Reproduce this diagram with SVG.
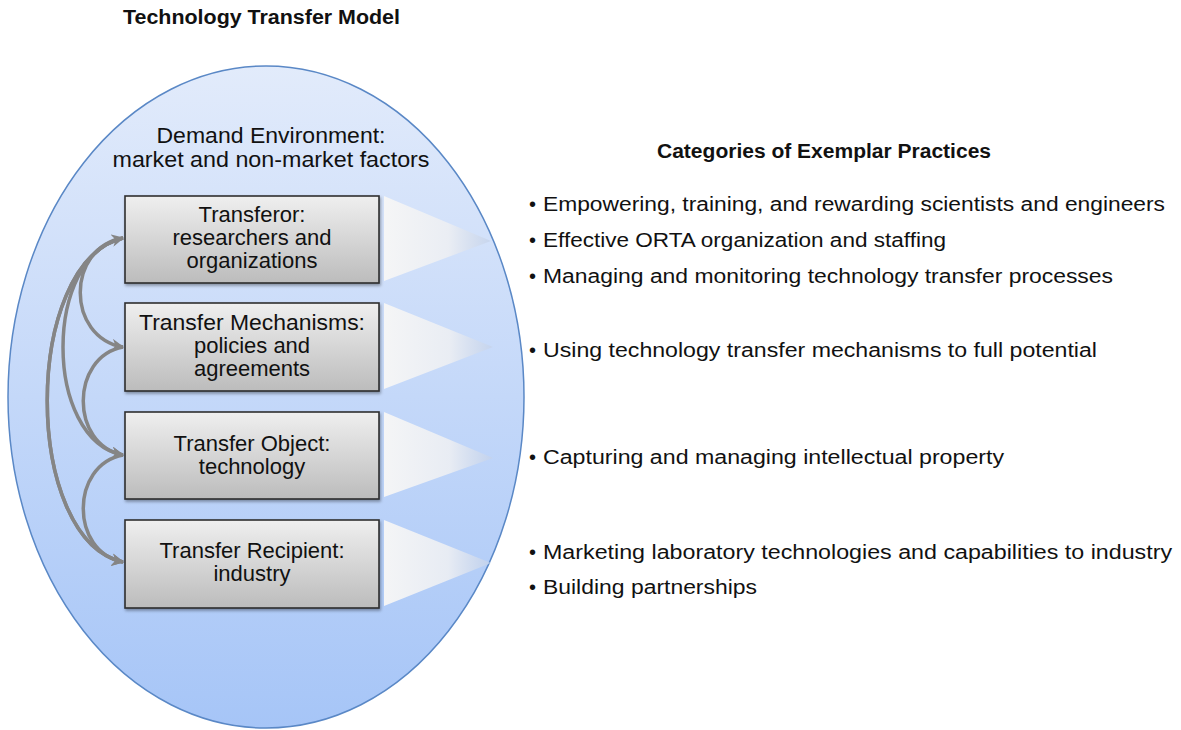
<svg xmlns="http://www.w3.org/2000/svg" width="1181" height="730" viewBox="0 0 1181 730">
<defs>
<style>
.t{font-family:"Liberation Sans",Arial,sans-serif;fill:#111;}
.bt{font-family:"Liberation Sans",Arial,sans-serif;fill:#111;font-size:22px;text-anchor:middle;}
.rt{font-family:"Liberation Sans",Arial,sans-serif;fill:#111;font-size:20px;}
.box{fill:url(#boxg);stroke:#2e2e2e;stroke-width:1.6;filter:url(#sh);}
.tri{fill:url(#trig);}
.con{fill:none;stroke:#858585;stroke-width:3.5;marker-end:url(#ah);}
</style>
<linearGradient id="ellg" x1="0" y1="0" x2="0" y2="1">
<stop offset="0" stop-color="#e2ebfb"/>
<stop offset="1" stop-color="#a6c5f7"/>
</linearGradient>
<linearGradient id="boxg" x1="0" y1="0" x2="0" y2="1">
<stop offset="0" stop-color="#efefef"/>
<stop offset="1" stop-color="#bcbcbc"/>
</linearGradient>
<linearGradient id="trig" x1="0" y1="0" x2="1" y2="0">
<stop offset="0" stop-color="#f6f6f6" stop-opacity="0.97"/>
<stop offset="0.6" stop-color="#edeff3" stop-opacity="0.9"/>
<stop offset="1" stop-color="#c4d2ea" stop-opacity="0.75"/>
</linearGradient>
<filter id="sh" x="-10%" y="-10%" width="120%" height="130%">
<feDropShadow dx="1" dy="2" stdDeviation="1.5" flood-color="#000" flood-opacity="0.35"/>
</filter>
<marker id="ah" viewBox="0 0 10 10" refX="9" refY="5" markerWidth="3.6" markerHeight="3.6" orient="auto" markerUnits="strokeWidth">
<path d="M0,0 L10,5 L0,10 L3,5 Z" fill="#858585"/>
</marker>
</defs>
<rect width="1181" height="730" fill="#fff"/>
<text class="t" x="123" y="24" font-size="20" font-weight="bold" textLength="277" lengthAdjust="spacingAndGlyphs">Technology Transfer Model</text>
<g id="environment">
<ellipse cx="266" cy="397" rx="258" ry="331" fill="url(#ellg)" stroke="#5a88c6" stroke-width="1.5"/>
<text class="bt" x="271" y="143" textLength="229" lengthAdjust="spacingAndGlyphs">Demand Environment:</text>
<text class="bt" x="271" y="167" textLength="317" lengthAdjust="spacingAndGlyphs">market and non-market factors</text>
</g>
<g id="connectors">
<path class="con" d="M123,238 C66,248 66,337 123,347"/>
<path class="con" d="M123,238 C43,255 43,440 123,455"/>
<path class="con" d="M123,238 C22,262 22,540 123,562"/>
<path class="con" d="M123,347 C70,357 70,445 123,455"/>
<path class="con" d="M123,455 C70,465 70,552 123,562"/>
<path class="con" d="M123,562 C22,540 22,262 123,238"/>
</g>
<g id="transferor">
<polygon class="tri" points="384,196 491,241 384,281"/>
<rect class="box" x="125" y="196" width="254" height="87"/>
<text class="bt" x="252" y="222">Transferor:</text>
<text class="bt" x="252" y="245">researchers and</text>
<text class="bt" x="252" y="268">organizations</text>
</g>
<g id="mechanisms">
<polygon class="tri" points="384,303 493,347 384,389"/>
<rect class="box" x="125" y="303" width="254" height="88"/>
<text class="bt" x="252" y="330" textLength="226" lengthAdjust="spacingAndGlyphs">Transfer Mechanisms:</text>
<text class="bt" x="252" y="353">policies and</text>
<text class="bt" x="252" y="376">agreements</text>
</g>
<g id="object">
<polygon class="tri" points="384,412 493,458 384,497"/>
<rect class="box" x="125" y="412" width="254" height="87"/>
<text class="bt" x="252" y="451">Transfer Object:</text>
<text class="bt" x="252" y="474">technology</text>
</g>
<g id="recipient">
<polygon class="tri" points="384,520 491,563 384,606"/>
<rect class="box" x="125" y="520" width="254" height="88"/>
<text class="bt" x="252" y="558">Transfer Recipient:</text>
<text class="bt" x="252" y="581">industry</text>
</g>
<g id="practices">
<text class="t" x="657" y="158" font-size="20" font-weight="bold" textLength="334" lengthAdjust="spacingAndGlyphs">Categories of Exemplar Practices</text>
<g class="rt">
<text x="529" y="211">•</text><text x="543" y="211" textLength="622" lengthAdjust="spacingAndGlyphs">Empowering, training, and rewarding scientists and engineers</text>
<text x="529" y="247">•</text><text x="543" y="247" textLength="403" lengthAdjust="spacingAndGlyphs">Effective ORTA organization and staffing</text>
<text x="529" y="283">•</text><text x="543" y="283" textLength="570" lengthAdjust="spacingAndGlyphs">Managing and monitoring technology transfer processes</text>
<text x="529" y="357">•</text><text x="543" y="357" textLength="554" lengthAdjust="spacingAndGlyphs">Using technology transfer mechanisms to full potential</text>
<text x="529" y="464">•</text><text x="543" y="464" textLength="461" lengthAdjust="spacingAndGlyphs">Capturing and managing intellectual property</text>
<text x="529" y="559">•</text><text x="543" y="559" textLength="629" lengthAdjust="spacingAndGlyphs">Marketing laboratory technologies and capabilities to industry</text>
<text x="529" y="594">•</text><text x="543" y="594" textLength="214" lengthAdjust="spacingAndGlyphs">Building partnerships</text>
</g>
</g>
</svg>
